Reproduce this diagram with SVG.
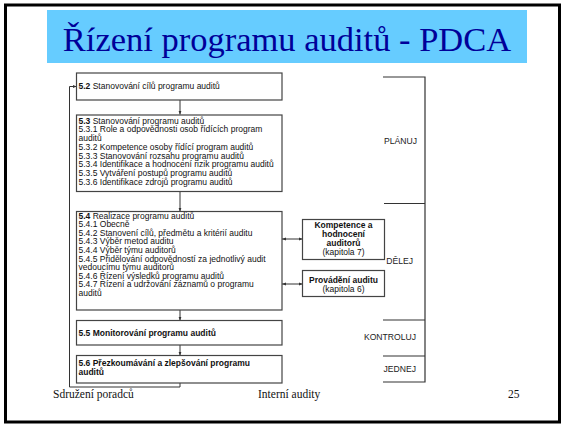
<svg xmlns="http://www.w3.org/2000/svg" width="563" height="424" viewBox="0 0 563 424">
<defs>
<marker id="ah" viewBox="0 0 10 10" refX="10" refY="5" markerWidth="4" markerHeight="4" orient="auto" markerUnits="userSpaceOnUse">
<path d="M0,1 L10,5 L0,9 Z" fill="#333"/>
</marker>
<marker id="ahs" viewBox="0 0 10 10" refX="0" refY="5" markerWidth="4" markerHeight="4" orient="auto" markerUnits="userSpaceOnUse">
<path d="M10,1 L0,5 L10,9 Z" fill="#333"/>
</marker>
<style>
.box{fill:#fff;stroke:#444;stroke-width:1.2}
.ln{fill:none;stroke:#333;stroke-width:1}
.br{fill:none;stroke:#333;stroke-width:1.2}
.t{font-family:"Liberation Sans",Arial,sans-serif;font-size:8.5px;fill:#111}
.b{font-weight:bold}
.c{text-anchor:middle}
.lab{font-family:"Liberation Sans",Arial,sans-serif;font-size:8.6px;fill:#222;text-anchor:end}
.ft{font-family:"Liberation Serif","Times New Roman",serif;font-size:11.5px;fill:#111}
</style>
</defs>
<rect x="0" y="0" width="563" height="424" fill="#fff"/>
<rect x="5.5" y="5" width="554" height="417" fill="none" stroke="#000" stroke-width="3"/>
<g id="title">
<rect x="47" y="10" width="480" height="53" fill="#66CCFF"/>
<text x="287" y="51" text-anchor="middle" font-family="'Liberation Serif','Times New Roman',serif" font-size="34.5" fill="#000099">Řízení programu auditů - PDCA</text>
</g>
<g id="connectors">
<line class="ln" x1="180" y1="100" x2="180" y2="114.5" marker-end="url(#ah)"/>
<line class="ln" x1="180" y1="191.5" x2="180" y2="211.5" marker-end="url(#ah)"/>
<line class="ln" x1="180" y1="310" x2="180" y2="320.5" marker-end="url(#ah)"/>
<line class="ln" x1="180" y1="345" x2="180" y2="355.5" marker-end="url(#ah)"/>
<polyline class="ln" points="180,383 180,387 69.5,387 69.5,86.5 76.5,86.5" marker-end="url(#ah)"/>
<line class="ln" x1="282" y1="239" x2="302.5" y2="239" marker-start="url(#ahs)" marker-end="url(#ah)"/>
<line class="ln" x1="282" y1="284" x2="302.5" y2="284" marker-start="url(#ahs)" marker-end="url(#ah)"/>
</g>
<g id="n52">
<rect class="box" x="76.5" y="73" width="205.5" height="27"/>
<text class="t" x="78.5" y="89"><tspan class="b">5.2</tspan> Stanovování cílů programu auditů</text>
</g>
<g id="n53">
<rect class="box" x="76.5" y="115" width="205.5" height="76.5"/>
<text class="t" x="78.5" y="123.5"><tspan class="b">5.3</tspan> Stanovování programu auditů</text>
<text class="t" x="78.5" y="132.1">5.3.1 Role a odpovědnosti osob řídících program</text>
<text class="t" x="78.5" y="140.7">auditů</text>
<text class="t" x="78.5" y="149.9">5.3.2 Kompetence osoby řídící program auditů</text>
<text class="t" x="78.5" y="158.6">5.3.3 Stanovování rozsahu programu auditů</text>
<text class="t" x="78.5" y="167.3">5.3.4 Identifikace a hodnocení rizik programu auditů</text>
<text class="t" x="78.5" y="175.9">5.3.5 Vytváření postupů programu auditů</text>
<text class="t" x="78.5" y="184.6">5.3.6 Identifikace zdrojů programu auditů</text>
</g>
<g id="n54">
<rect class="box" x="76.5" y="211.5" width="205.5" height="98.5"/>
<text class="t" x="78.5" y="218.5"><tspan class="b">5.4</tspan> Realizace programu auditů</text>
<text class="t" x="78.5" y="227.1">5.4.1 Obecně</text>
<text class="t" x="78.5" y="235.7">5.4.2 Stanovení cílů, předmětu a kritérií auditu</text>
<text class="t" x="78.5" y="244.3">5.4.3 Výběr metod auditu</text>
<text class="t" x="78.5" y="252.9">5.4.4 Výběr týmu auditorů</text>
<text class="t" x="78.5" y="261.5">5.4.5 Přidělování odpovědností za jednotlivý audit</text>
<text class="t" x="78.5" y="270.1">vedoucímu týmu auditorů</text>
<text class="t" x="78.5" y="278.7">5.4.6 Řízení výsledků programu auditů</text>
<text class="t" x="78.5" y="287.3">5.4.7 Řízení a udržování záznamů o programu</text>
<text class="t" x="78.5" y="295.9">auditů</text>
</g>
<g id="n55">
<rect class="box" x="76.5" y="320.5" width="205.5" height="24.5"/>
<text class="t b" x="78.5" y="335.5">5.5 Monitorování programu auditů</text>
</g>
<g id="n56">
<rect class="box" x="76.5" y="355.5" width="205.5" height="27.5"/>
<text class="t b" x="78.5" y="365.5">5.6 Přezkoumávání a zlepšování programu</text>
<text class="t b" x="78.5" y="374.5">auditů</text>
</g>
<g id="kompetence">
<rect class="box" x="302.5" y="219.5" width="82" height="40"/>
<text class="t b c" x="343.5" y="227.5">Kompetence a</text>
<text class="t b c" x="343.5" y="236.5">hodnocení</text>
<text class="t b c" x="343.5" y="245.5">auditorů</text>
<text class="t c" x="343.5" y="254.5">(kapitola 7)</text>
</g>
<g id="provadeni">
<rect class="box" x="302.5" y="270.5" width="82" height="26"/>
<text class="t b c" x="343.5" y="282.5">Provádění auditu</text>
<text class="t c" x="343.5" y="291.5">(kapitola 6)</text>
</g>
<g id="pdca">
<polyline class="br" points="383,77 425,77 425,382 383,382"/>
<line class="br" x1="384" y1="203.5" x2="425" y2="203.5"/>
<line class="br" x1="383" y1="320" x2="425" y2="320"/>
<line class="br" x1="383" y1="356" x2="425" y2="356"/>
<text class="lab" x="417" y="143.5">PLÁNUJ</text>
<text class="lab" x="413" y="263.5">DĚLEJ</text>
<text class="lab" x="416" y="340">KONTROLUJ</text>
<text class="lab" x="416" y="371.5">JEDNEJ</text>
</g>
<g id="footer">
<text class="ft" x="53" y="398">Sdružení poradců</text>
<text class="ft" x="258" y="398">Interní audity</text>
<text class="ft" x="508" y="398">25</text>
</g>
</svg>
